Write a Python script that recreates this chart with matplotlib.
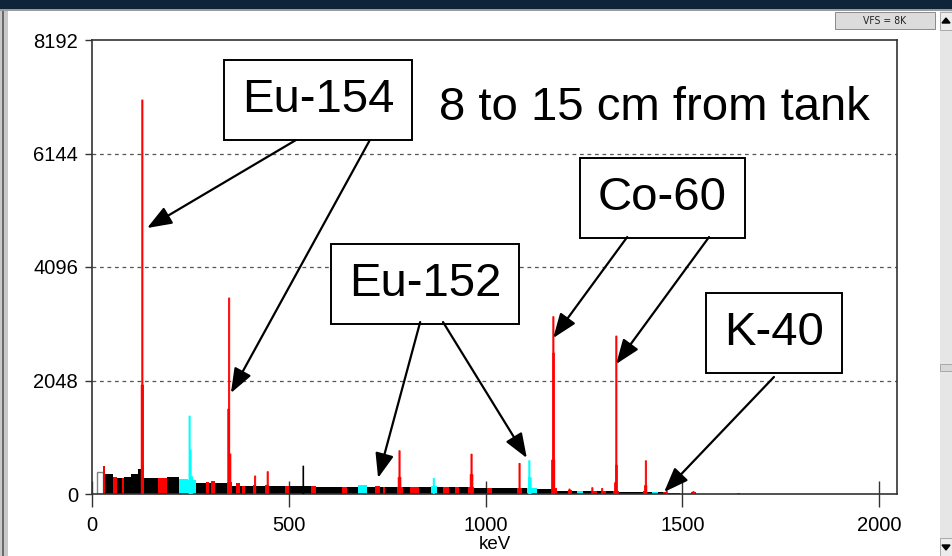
import matplotlib
matplotlib.use("Agg")
import matplotlib.pyplot as plt
from matplotlib.patches import Rectangle, Polygon
from matplotlib.patches import ArrowStyle

plt.rcParams['font.family'] = ['Liberation Sans', 'DejaVu Sans']

# ---------------- data ----------------
# continuum / region-of-interest segments (keV start, keV end, counts, colour)
seg_start = [13, 28, 34, 54, 63, 75, 81, 100, 117, 124, 133, 167, 190, 222, 244, 265, 290, 298, 302, 312,
             343, 355, 367, 375, 380, 389, 410, 418, 440, 450, 490, 500, 556, 569, 635, 647, 676, 698, 719, 732,
             740, 745, 775, 790, 808, 831, 862, 877, 892, 907, 922, 933, 955, 972, 1003, 1016, 1079, 1092, 1105, 1130,
             1168, 1182, 1210, 1219, 1232, 1248, 1270, 1283, 1295, 1306, 1325, 1338, 1401, 1409, 1422, 1439, 1450, 1460,
             1521, 1638]
seg_end = [28, 34, 54, 63, 75, 81, 100, 117, 124, 133, 167, 190, 222, 244, 265, 290, 298, 302, 312, 343,
           355, 367, 375, 380, 389, 410, 418, 440, 450, 490, 500, 556, 569, 635, 647, 676, 698, 719, 732, 740,
           745, 775, 790, 808, 831, 862, 877, 892, 907, 922, 933, 955, 972, 1003, 1016, 1079, 1092, 1105, 1130, 1168,
           1182, 1210, 1219, 1232, 1248, 1270, 1283, 1295, 1306, 1325, 1338, 1401, 1409, 1422, 1439, 1450, 1460, 1494,
           1535, 1647]
seg_counts = [397, 505, 355, 310, 290, 295, 315, 360, 450, 520, 290, 280, 300, 275, 250, 205, 210, 200, 230, 200,
              210, 150, 190, 150, 150, 150, 160, 150, 160, 145, 145, 140, 140, 135, 135, 132, 160, 130, 150, 130,
              130, 128, 135, 128, 130, 125, 145, 125, 128, 122, 122, 120, 125, 112, 112, 105, 110, 100, 110, 95,
              100, 62, 70, 58, 55, 55, 60, 52, 58, 50, 60, 36, 50, 32, 35, 30, 38, 20,
              35, 20]
seg_color = ['w', 'r', 'k', 'r', 'k', 'r', 'k', 'k', 'k', 'r', 'k', 'r', 'k', 'c', 'c', 'k', 'r', 'k', 'r', 'k',
             'r', 'k', 'r', 'k', 'r', 'k', 'r', 'k', 'r', 'k', 'r', 'k', 'r', 'k', 'r', 'k', 'c', 'k', 'r', 'k',
             'r', 'k', 'r', 'k', 'r', 'k', 'c', 'k', 'r', 'k', 'r', 'k', 'r', 'k', 'r', 'k', 'r', 'k', 'c', 'k',
             'r', 'k', 'r', 'k', 'c', 'k', 'r', 'k', 'r', 'k', 'r', 'k', 'r', 'k', 'c', 'k', 'r', 'k',
             'r', 'r']

# peak channels (keV start, keV width, counts, colour)
peak_start = [126.5, 125, 246.5, 249, 252, 347, 345, 349, 413, 445, 536, 780, 778, 867, 963, 961,
              1085, 1110, 1109, 1171, 1171, 1168, 1212, 1270, 1295, 1331, 1331, 1328, 1406, 1404, 1459, 1527]
peak_width = [3, 6, 3, 3, 4, 3, 4, 4, 3, 3, 2, 3, 7, 3, 3, 7,
              3, 3, 7, 3, 4, 8, 3, 3, 3, 3, 4, 4, 3, 6, 3, 3]
peak_counts = [7110, 1966, 1407, 794, 312, 3537, 1533, 722, 325, 403, 505, 781, 300, 283, 720, 350,
               553, 601, 300, 3200, 2544, 613, 90, 114, 100, 2851, 523, 204, 600, 150, 50, 45]
peak_color = ['r', 'r', 'c', 'c', 'c', 'r', 'r', 'r', 'r', 'r', 'k', 'r', 'r', 'c', 'r', 'r',
              'r', 'c', 'c', 'r', 'r', 'r', 'r', 'r', 'r', 'r', 'r', 'r', 'r', 'r', 'r', 'r']

y_ticks = [0, 2048, 4096, 6144, 8192]
x_ticks = [0, 500, 1000, 1500, 2000]

labels = ['Eu-154', 'Co-60', 'Eu-152', 'K-40']
label_pos = [(574, 7108), (1449, 5340), (846, 3788), (1733, 2904)]
subtitle = '8 to 15 cm from tank'
subtitle_pos = (1428, 6963)
# arrows: (tail keV, tail counts, head keV, head counts)
arrow_tail = [(518, 6386), (706, 6386), (1360, 4636), (1568, 4636), (834, 3103), (892, 3103), (1733, 2111)]
arrow_head = [(140, 4799), (353, 1822), (1172, 2814), (1332, 2345), (727, 289), (1105, 649), (1454, 36)]

cmap = {'r': '#ff0000', 'c': '#00ffff', 'k': '#000000', 'w': '#ffffff'}

# ---------------- figure ----------------
W, H = 953, 556
fig = plt.figure(figsize=(W / 100, H / 100), dpi=100)
fig.patch.set_facecolor('white')


def frect(x0, y0, x1, y1, **kw):
    """rectangle in pixel coords measured from top-left"""
    fig.add_artist(Rectangle((x0 / W, 1 - y1 / H), (x1 - x0) / W, (y1 - y0) / H,
                             transform=fig.transFigure, **kw))


# window chrome
frect(0, 0, W, 9, facecolor='#0f2438', edgecolor='none')
frect(0, 9, 8, H, facecolor='#c8c8c8', edgecolor='none')
frect(2, 9, 4, H, facecolor='#6a6a6a', edgecolor='none')
frect(0, 9, W, 11, facecolor='#9a9a9a', edgecolor='none')
frect(940, 11, W, H, facecolor='#e6e6e6', edgecolor='none', hatch='....')
frect(940, 12, W, 30, facecolor='#ececec', edgecolor='#a0a0a0', lw=0.6)
frect(940, 538, W, H, facecolor='#ececec', edgecolor='#a0a0a0', lw=0.6)
frect(940, 364, W, 371, facecolor='#d8d8d8', edgecolor='#a0a0a0', lw=0.6)
fig.add_artist(Polygon([[942 / W, 1 - 23 / H], [950 / W, 1 - 23 / H], [946 / W, 1 - 18 / H]],
                       closed=True, transform=fig.transFigure, color='black'))
fig.add_artist(Polygon([[942 / W, 1 - 545 / H], [950 / W, 1 - 545 / H], [946 / W, 1 - 550 / H]],
                       closed=True, transform=fig.transFigure, color='black'))
frect(835, 12, 935, 29, facecolor='#dcdcdc', edgecolor='#8a8a8a', lw=0.7)
fig.text(885 / W, 1 - 20.5 / H, 'VFS = 8K', ha='center', va='center', fontsize=7.5,
         color='#222222', family=['DejaVu Sans'], fontstretch='condensed')

ax = fig.add_axes([92 / W, 62 / H, 805 / W, 454 / H])
ax.set_xlim(0, 2045.7)
ax.set_ylim(0, 8192)

# gridlines
for yv in y_ticks[1:4]:
    ax.axhline(yv, color='#555555', lw=0.9, ls=(0, (3, 3)), zorder=1)

# continuum segments
widths = [e - s for s, e in zip(seg_start, seg_end)]
ax.bar(seg_start, seg_counts, width=widths, align='edge',
       facecolor=[cmap[c] for c in seg_color],
       edgecolor=['#808080' if c == 'w' else 'none' for c in seg_color],
       linewidth=[1.0 if c == 'w' else 0 for c in seg_color], zorder=2)

# peaks (drawn as filled channels with a thin outline of the same colour)
peak_rgb = [cmap[c] for c in peak_color]
ax.bar(peak_start, peak_counts, width=peak_width, align='edge',
       facecolor=peak_rgb, edgecolor=peak_rgb, linewidth=0.6, snap=False, zorder=3)

# axes styling
for sp in ax.spines.values():
    sp.set_color('#333333')
    sp.set_linewidth(1.2)
ax.set_yticks(y_ticks)
ax.set_yticklabels([str(v) for v in y_ticks])
ax.set_xticks(x_ticks)
ax.set_xticklabels([str(v) for v in x_ticks])
ax.tick_params(axis='y', direction='out', length=5, width=1, color='#333333',
               labelsize=14.5, pad=5)
ax.tick_params(axis='x', direction='inout', length=19, width=1, color='#333333',
               labelsize=14.5, pad=6)
ax.set_xlabel('keV', fontsize=13.5, labelpad=1)

# annotations
box = dict(boxstyle='square,pad=0.38', facecolor='white', edgecolor='black', linewidth=1.4)
for lab, (lx, ly) in zip(labels, label_pos):
    ax.text(lx, ly, lab, fontsize=34, ha='center', va='center', bbox=box, zorder=6)
ax.text(subtitle_pos[0], subtitle_pos[1], subtitle, fontsize=34, ha='center', va='center', zorder=6)

astyle = ArrowStyle('-|>', head_length=1.0, head_width=0.38)
for (tx, ty), (hx, hy) in zip(arrow_tail, arrow_head):
    ax.annotate('', xy=(hx, hy), xytext=(tx, ty), xycoords='data', textcoords='data',
                arrowprops=dict(arrowstyle=astyle, mutation_scale=15, color='black',
                                lw=1.6, shrinkA=0, shrinkB=0), zorder=7)

fig.savefig('out.png', dpi=100)
